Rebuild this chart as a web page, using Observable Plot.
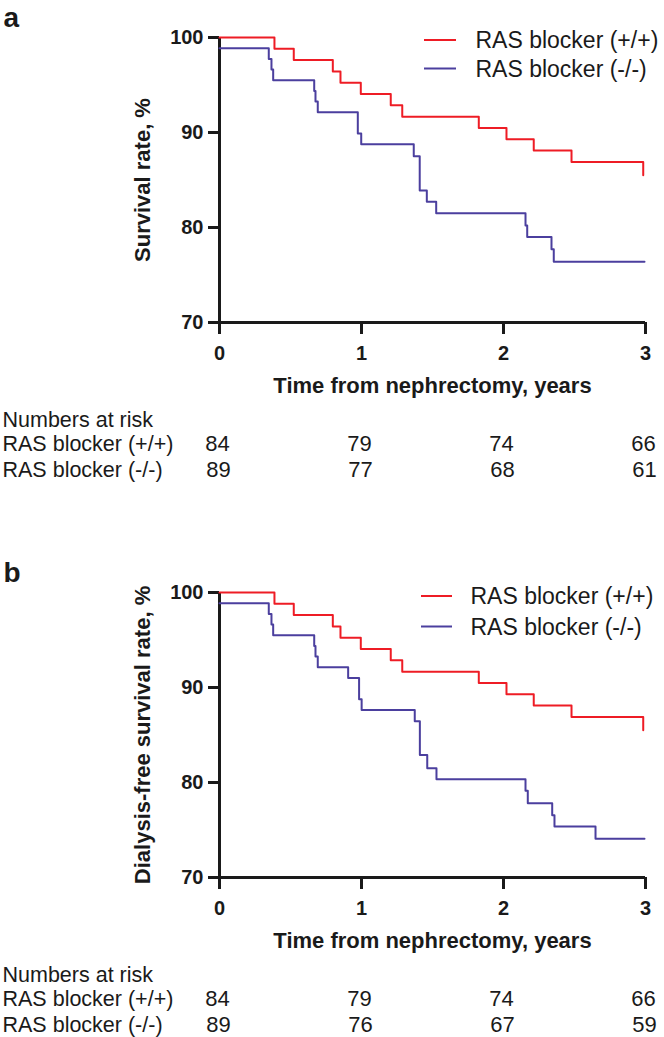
<!DOCTYPE html>
<html><head><meta charset="utf-8">
<script src="https://cdn.jsdelivr.net/npm/d3@7"></script>
<script src="https://cdn.jsdelivr.net/npm/@observablehq/plot@0.6"></script>
<style>
body{margin:0;background:#fff;}
#chart{width:664px;}
#chart svg{display:block;overflow:visible;font-family:"Liberation Sans",Arial,Helvetica,sans-serif;color:#1a1a1a;}
</style></head><body><div id="chart"></div>
<script>
// ---------- data ----------
const xTicks = [0, 1, 2, 3];
const yTicks = [70, 80, 90, 100];
const seriesNames = ["RAS blocker (+/+)", "RAS blocker (-/-)"];

// Panel a: overall survival
const timeA_pos = [0, 0.387, 0.523, 0.798, 0.852, 0.995, 1.206, 1.287, 1.826, 2.021, 2.213, 2.479, 2.984];
const survA_pos = [100, 98.81, 97.62, 96.43, 95.24, 94.05, 92.86, 91.67, 90.48, 89.29, 88.10, 86.90, 85.5];
const timeA_neg = [0, 0.347, 0.366, 0.378, 0.667, 0.676, 0.692, 0.974, 0.998, 1.368, 1.410, 1.460, 1.526, 2.155, 2.167, 2.338, 2.354, 2.993];
const survA_neg = [98.88, 97.75, 96.63, 95.51, 94.38, 93.26, 92.13, 89.89, 88.76, 87.5, 83.9, 82.7, 81.5, 80.2, 79.0, 77.7, 76.4, 76.4];

// Panel b: dialysis-free survival
const timeB_pos = [0, 0.387, 0.523, 0.798, 0.852, 0.995, 1.206, 1.287, 1.826, 2.021, 2.213, 2.479, 2.984];
const survB_pos = [100, 98.81, 97.62, 96.43, 95.24, 94.05, 92.86, 91.67, 90.48, 89.29, 88.10, 86.90, 85.5];
const timeB_neg = [0, 0.347, 0.366, 0.378, 0.667, 0.676, 0.692, 0.906, 0.983, 1.001, 1.375, 1.411, 1.463, 1.528, 2.155, 2.171, 2.343, 2.359, 2.648, 2.993];
const survB_neg = [98.88, 97.75, 96.63, 95.51, 94.38, 93.26, 92.13, 91.0, 88.76, 87.64, 86.45, 82.9, 81.51, 80.35, 79.13, 77.82, 76.56, 75.37, 74.07, 74.07];

// Numbers at risk
const riskTimes = [0, 1, 2, 3];
const riskA_pos = [84, 79, 74, 66];
const riskA_neg = [89, 77, 68, 61];
const riskB_pos = [84, 79, 74, 66];
const riskB_neg = [89, 76, 67, 59];

const colors = ["#ee1c25", "#4b3f9e"];

// ---------- drawing ----------
const ML = 219, MR = 19, MT = 37, INNER = 285;
const FONT = '"Liberation Sans",Arial,Helvetica,sans-serif';

function label(str, ax, ay, opts = {}) {
  return Plot.text([str], {
    text: d => d, frameAnchor: "top-left",
    dx: ax - ML, dy: ay - MT, lineAnchor: "bottom", textAnchor: "start",
    fill: "#1a1a1a", ...opts
  });
}

function panel({letter, yLabel, tPos, sPos, tNeg, sNeg, rPos, rNeg, height, leg}) {
  const pos = tPos.map((t, i) => ({t, s: sPos[i]}));
  const neg = tNeg.map((t, i) => ({t, s: sNeg[i]}));
  const rows = [];
  riskTimes.forEach((t, i) => {
    rows.push({t, n: rPos[i], row: 0});
    rows.push({t, n: rNeg[i], row: 1});
  });
  const plot = Plot.plot({
    width: 664, height,
    marginLeft: ML, marginRight: MR, marginTop: MT, marginBottom: height - MT - INNER,
    style: {fontFamily: FONT, color: "#1a1a1a", background: "#fff"},
    x: {domain: [0, 3]},
    y: {domain: [70, 100]},
    marks: [
      Plot.axisY({ticks: yTicks, tickFormat: "d", tickSize: 11, tickPadding: 5, fontSize: 20, fontWeight: "bold", strokeWidth: 3, label: null}),
      Plot.axisX({ticks: xTicks, tickFormat: "d", tickSize: 12, tickPadding: 11, fontSize: 20, fontWeight: "bold", strokeWidth: 3, label: null}),
      Plot.ruleX([0], {y1: 70, y2: 100, stroke: "#1a1a1a", strokeWidth: 3}),
      Plot.ruleY([70], {x1: 0, x2: 3, stroke: "#1a1a1a", strokeWidth: 3}),
      Plot.line(neg, {x: "t", y: "s", curve: "step-after", stroke: colors[1], strokeWidth: 2}),
      Plot.line(pos, {x: "t", y: "s", curve: "step-after", stroke: colors[0], strokeWidth: 2}),
      // axis titles
      Plot.text([yLabel], {text: d => d, frameAnchor: "left", rotate: -90, dx: -77, textAnchor: "middle", lineAnchor: "middle", fontSize: 22, fontWeight: "bold", fill: "#1a1a1a"}),
      Plot.text(["Time from nephrectomy, years"], {text: d => d, frameAnchor: "bottom", dy: 70, textAnchor: "middle", lineAnchor: "bottom", fontSize: 22, fontWeight: "bold", fill: "#1a1a1a"}),
      // panel letter
      label(letter, 3, 26, {fontSize: 28, fontWeight: "bold"}),
      // legend text
      label(seriesNames[0], leg.tx, leg.y1 + 7.5, {fontSize: 23}),
      label(seriesNames[1], leg.tx, leg.y2 + 7.5, {fontSize: 23}),
      // numbers at risk
      label("Numbers at risk", 2, 426, {fontSize: 21.5}),
      label(seriesNames[0], 2, 450, {fontSize: 21.5}),
      label(seriesNames[1], 2, 476, {fontSize: 21.5}),
      Plot.text(rows.filter(d => d.row === 0), {x: "t", text: "n", frameAnchor: "bottom", dy: 450 - MT - INNER, dx: -2, lineAnchor: "bottom", textAnchor: "middle", fontSize: 22, fill: "#1a1a1a"}),
      Plot.text(rows.filter(d => d.row === 1), {x: "t", text: "n", frameAnchor: "bottom", dy: 476 - MT - INNER, dx: -1, lineAnchor: "bottom", textAnchor: "middle", fontSize: 22, fill: "#1a1a1a"})
    ]
  });
  // legend swatches
  const svg = d3.select(plot);
  [[leg.y1, colors[0]], [leg.y2, colors[1]]].forEach(([y, c]) => {
    svg.append("line").attr("x1", leg.lx1).attr("x2", leg.lx2).attr("y1", y).attr("y2", y)
      .attr("stroke", c).attr("stroke-width", 2);
  });
  return plot;
}

const chart = document.getElementById("chart");
chart.appendChild(panel({
  letter: "a", yLabel: "Survival rate, %",
  tPos: timeA_pos, sPos: survA_pos, tNeg: timeA_neg, sNeg: survA_neg,
  rPos: riskA_pos, rNeg: riskA_neg, height: 555,
  leg: {lx1: 424, lx2: 456, tx: 475, y1: 40, y2: 68.5}
}));
chart.appendChild(panel({
  letter: "b", yLabel: "Dialysis-free survival rate, %",
  tPos: timeB_pos, sPos: survB_pos, tNeg: timeB_neg, sNeg: survB_neg,
  rPos: riskB_pos, rNeg: riskB_neg, height: 482,
  leg: {lx1: 421, lx2: 452, tx: 470, y1: 41, y2: 71.5}
}));
</script></body></html>
